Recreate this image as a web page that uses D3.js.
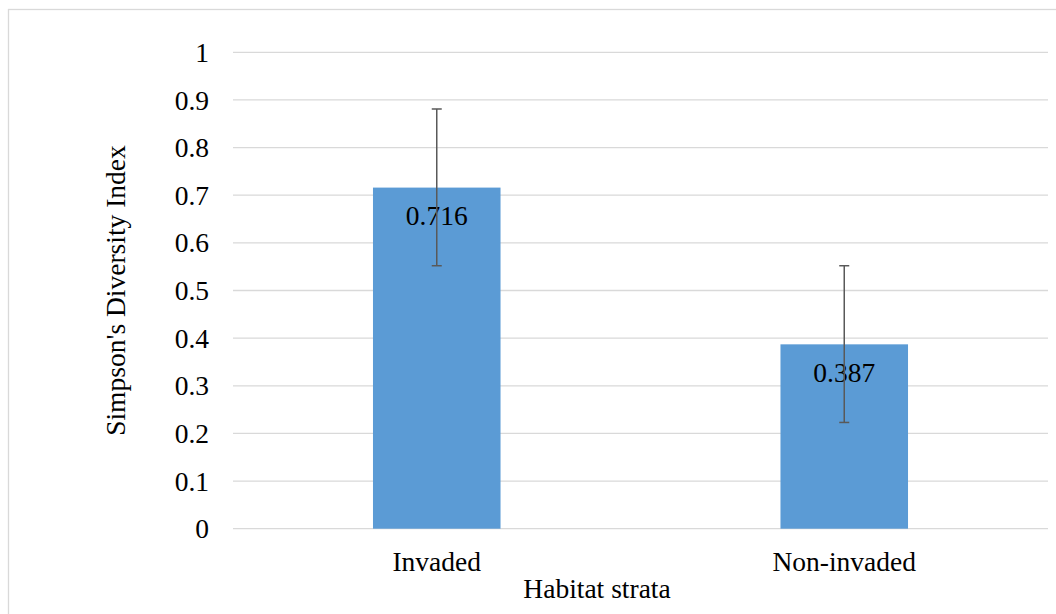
<!DOCTYPE html>
<html>
<head>
<meta charset="utf-8">
<script src="https://cdn.jsdelivr.net/npm/d3@7"></script>
<style>
  html, body { margin: 0; padding: 0; background: #fff; }
  text { font-family: "Liberation Serif", "Times New Roman", serif; fill: #000; }
</style>
</head>
<body>
<div id="chart"></div>
<script>
const categories = ["Invaded", "Non-invaded"];
const values = [0.716, 0.387];
const errLow = [0.552, 0.223];
const errHigh = [0.881, 0.552];
const yTicks = [0, 0.1, 0.2, 0.3, 0.4, 0.5, 0.6, 0.7, 0.8, 0.9, 1];

const width = 1056, height = 614;
const margin = { left: 233, right: 8, top: 52.3, bottom: 85.3 };
const fontSize = "27.5px";

const svg = d3.select("#chart").append("svg")
    .attr("width", width)
    .attr("height", height);

// outer chart border (cut off at right and bottom)
svg.append("rect")
    .attr("x", 8.5).attr("y", 9.5)
    .attr("width", 1100).attr("height", 700)
    .attr("fill", "none")
    .attr("stroke", "#d9d9d9")
    .attr("stroke-width", 1.3);

const x = d3.scaleBand()
    .domain(categories)
    .range([margin.left, width - margin.right])
    .padding(0);

const y = d3.scaleLinear()
    .domain([0, 1])
    .range([height - margin.bottom, margin.top]);

// gridlines
svg.append("g")
    .selectAll("line")
    .data(yTicks)
    .enter()
    .append("line")
    .attr("x1", margin.left)
    .attr("x2", width - margin.right)
    .attr("y1", d => y(d))
    .attr("y2", d => y(d))
    .attr("stroke", "#d9d9d9")
    .attr("stroke-width", 1.3);

// y tick labels
svg.append("g")
    .selectAll("text")
    .data(yTicks)
    .enter()
    .append("text")
    .attr("x", 209)
    .attr("y", d => y(d))
    .attr("dy", "0.35em")
    .attr("text-anchor", "end")
    .style("font-size", fontSize)
    .text(d => d);

const barW = x.bandwidth() * 0.313;
const data = categories.map((c, i) => ({ c, v: values[i], lo: errLow[i], hi: errHigh[i] }));

// bars
svg.append("g")
    .selectAll("rect")
    .data(data)
    .enter()
    .append("rect")
    .attr("x", d => x(d.c) + x.bandwidth() / 2 - barW / 2)
    .attr("width", barW)
    .attr("y", d => y(d.v))
    .attr("height", d => y(0) - y(d.v))
    .attr("fill", "#5b9bd5");

// value labels
svg.append("g")
    .selectAll("text")
    .data(data)
    .enter()
    .append("text")
    .attr("x", d => x(d.c) + x.bandwidth() / 2)
    .attr("y", d => y(d.v) + 28)
    .attr("dy", "0.35em")
    .attr("text-anchor", "middle")
    .style("font-size", fontSize)
    .text(d => d.v);

// error bars
const eb = svg.append("g").attr("stroke", "#595959").attr("stroke-width", 1.5);
data.forEach(d => {
    const cx = x(d.c) + x.bandwidth() / 2;
    eb.append("line").attr("x1", cx).attr("x2", cx).attr("y1", y(d.hi)).attr("y2", y(d.lo));
    eb.append("line").attr("x1", cx - 5).attr("x2", cx + 5).attr("y1", y(d.hi)).attr("y2", y(d.hi));
    eb.append("line").attr("x1", cx - 5).attr("x2", cx + 5).attr("y1", y(d.lo)).attr("y2", y(d.lo));
});

// category labels
svg.append("g")
    .selectAll("text")
    .data(categories)
    .enter()
    .append("text")
    .attr("x", d => x(d) + x.bandwidth() / 2)
    .attr("y", 561)
    .attr("dy", "0.35em")
    .attr("text-anchor", "middle")
    .style("font-size", fontSize)
    .text(d => d);

// axis titles
svg.append("text")
    .attr("x", 597)
    .attr("y", 588)
    .attr("dy", "0.35em")
    .attr("text-anchor", "middle")
    .style("font-size", fontSize)
    .text("Habitat strata");

svg.append("text")
    .attr("transform", "translate(115," + y(0.5) + ") rotate(-90)")
    .attr("dy", "0.35em")
    .attr("text-anchor", "middle")
    .style("font-size", fontSize)
    .text("Simpson's Diversity Index");
</script>
</body>
</html>
